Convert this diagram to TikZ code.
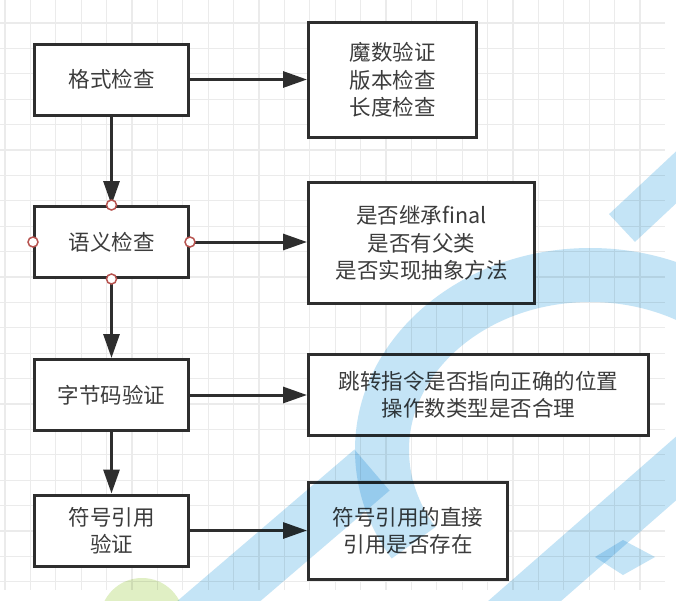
\documentclass[tikz,border=0pt]{standalone}
\usepackage{fontspec}
\setmainfont{Noto Sans CJK SC}
\usetikzlibrary{arrows.meta}
\definecolor{gridline}{HTML}{EBEBEB}
\definecolor{ink}{HTML}{2E2E2E}
\definecolor{txt}{HTML}{3C3C3C}
\definecolor{portred}{HTML}{B85450}
\definecolor{wmblue}{HTML}{C4E4F6}
\definecolor{wmgreen}{HTML}{E0EFC4}
\begin{document}
\begin{tikzpicture}[x=1pt,y=-1pt,
  stage/.style={draw=ink, line width=3pt, fill=white, minimum width=154pt,
    minimum height=71pt, inner sep=0pt, text=txt,
    font=\fontsize{21.5pt}{27.5pt}\selectfont, align=center},
  flow/.style={draw=ink, line width=3pt, -{Triangle[length=24pt,width=16pt]}},
  portdot/.style={circle, draw=portred, line width=1.5pt, fill=white,
    minimum size=10pt, inner sep=0pt},
  wm/.style={wmblue, line width=54pt}]
\useasboundingbox (0,0) rectangle (676,600);
\fill[white] (0,0) rectangle (676,600);

% background grid
\foreach \i in {0,...,25}
  \draw[gridline, line width=1.2pt] ({5+25.4*\i},0) -- ({5+25.4*\i},590);
\foreach \j in {0,...,22}
  \draw[gridline, line width=1.2pt] (0,{23+25.4*\j}) -- (665,{23+25.4*\j});

% verification stages
\node[stage] (fmt) at (111.5,79.5) {格式检查};
\node[stage] (sem) at (111.5,242) {语义检查};
\node[stage] (bc)  at (111.5,395) {字节码验证};
\node[stage] (sym) at (111.5,530.5) {符号引用\\验证};

% details of each stage
\node[stage, minimum width=168pt, minimum height=115pt] (fmtn) at (392.5,80)
  {魔数验证\\版本检查\\长度检查};
\node[stage, minimum width=226pt, minimum height=121pt] (semn) at (421.5,243)
  {是否继承final\\是否有父类\\是否实现抽象方法};
\node[stage, minimum width=340pt, minimum height=81pt] (bcn) at (478.5,395)
  {跳转指令是否指向正确的位置\\操作数类型是否合理};
\node[stage, minimum width=199pt, minimum height=97pt] (symn) at (408,531)
  {符号引用的直接\\引用是否存在};

% flow between stages
\draw[flow] (fmt.south) -- (sem.north);
\draw[flow] (sem.south) -- (bc.north);
\draw[flow] (bc.south) -- (sym.north);

% stage to its checks
\draw[flow] (fmt.east) -- (fmt.east -| fmtn.west);
\draw[flow] (sem.east) -- (sem.east -| semn.west);
\draw[flow] (bc.east) -- (bc.east -| bcn.west);
\draw[flow] (sym.east) -- (sym.east -| symn.west);

% connection points of the selected stage
\node[portdot] (pn) at (sem.north) {};
\node[portdot] (ps) at (sem.south) {};
\node[portdot] (pw) at (sem.west) {};
\node[portdot] (pe) at (sem.east) {};

% watermark
\begin{scope}[blend mode=multiply]
  \fill[wmgreen] (142,620) circle (42);
  \draw[wm] ({590+208*cos(-5)},{450+175*sin(-5)})
    arc[start angle=-5, end angle=-212, x radius=208, y radius=175];
  \draw[wm] (372,470) -- (185,630);
  \draw[wm, line width=48pt] (480,640) -- (720,430);
  \draw[wm, line width=38pt] (622,228) -- (700,155);
  \fill[wmblue] (595,557) -- (623,540) -- (655,557) -- (623,575) -- cycle;
\end{scope}
\end{tikzpicture}
\end{document}
